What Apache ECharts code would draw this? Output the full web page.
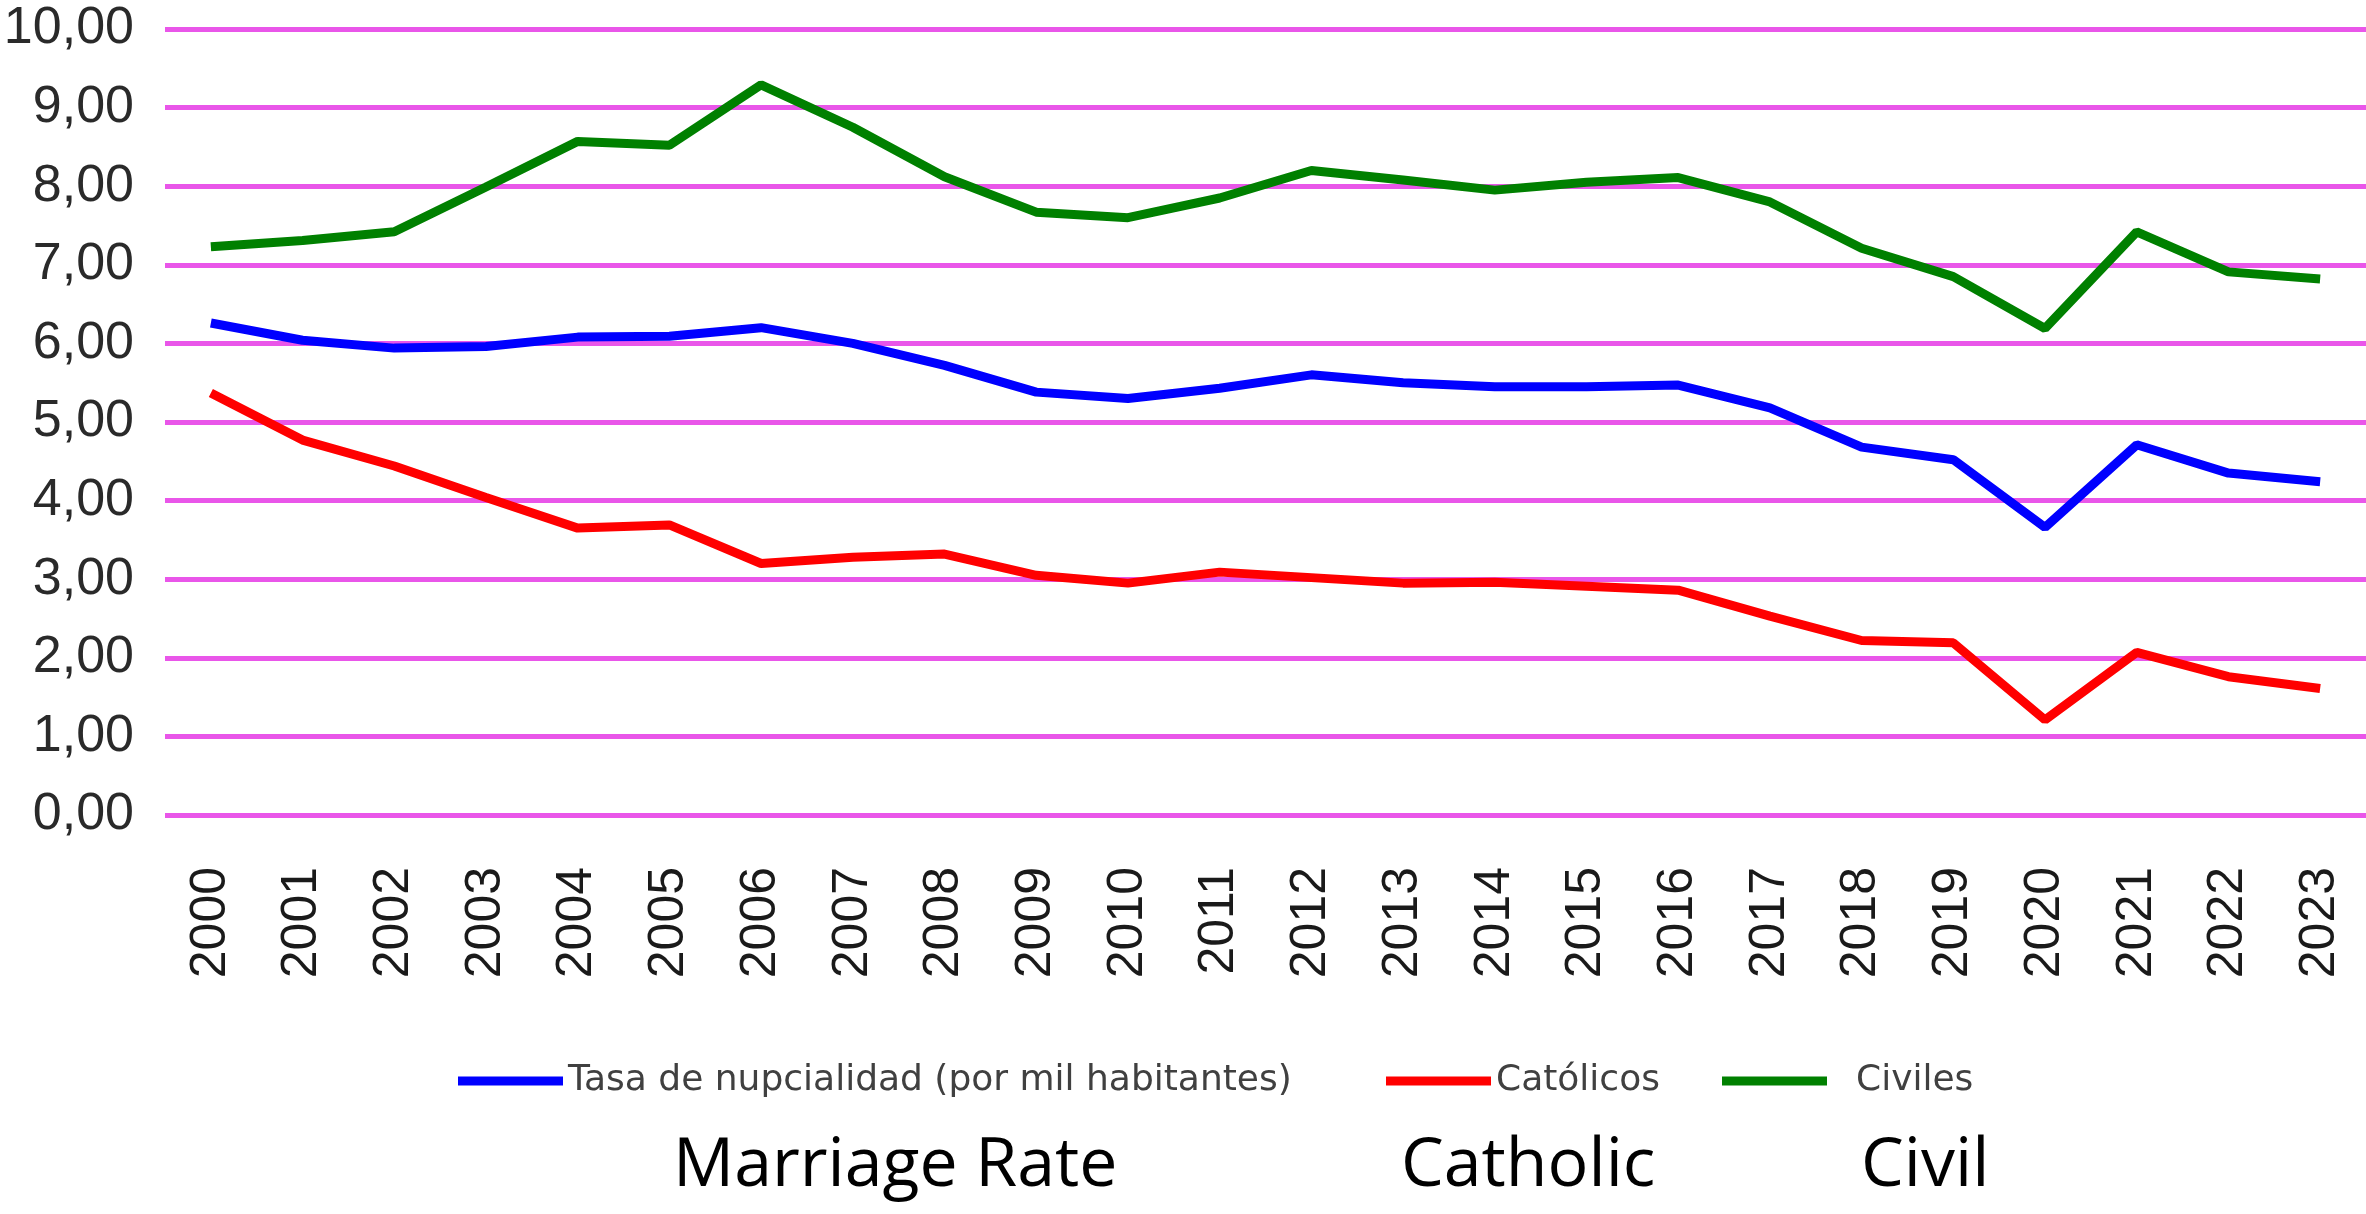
<!DOCTYPE html>
<html>
<head>
<meta charset="utf-8">
<script src="https://cdn.jsdelivr.net/npm/echarts@6/dist/echarts.min.js"></script>
<style>
html,body{margin:0;padding:0;background:#fff;}
#chart{width:2366px;height:1214px;}
</style>
</head>
<body>
<div id="chart"></div>
<script>
const years = ['2000','2001','2002','2003','2004','2005','2006','2007','2008','2009','2010','2011','2012','2013','2014','2015','2016','2017','2018','2019','2020','2021','2022','2023'];
const tasa = [6.26, 6.04, 5.94, 5.96, 6.08, 6.09, 6.20, 6.00, 5.72, 5.38, 5.30, 5.43, 5.60, 5.50, 5.45, 5.45, 5.47, 5.18, 4.68, 4.52, 3.66, 4.71, 4.35, 4.24];
const catolicos = [5.37, 4.77, 4.44, 4.04, 3.65, 3.69, 3.20, 3.28, 3.32, 3.05, 2.95, 3.09, 3.02, 2.95, 2.96, 2.91, 2.86, 2.53, 2.22, 2.19, 1.21, 2.07, 1.76, 1.61];
const civiles = [7.23, 7.31, 7.42, 7.99, 8.57, 8.52, 9.29, 8.75, 8.12, 7.67, 7.60, 7.85, 8.20, 8.08, 7.95, 8.05, 8.11, 7.80, 7.21, 6.85, 6.19, 7.42, 6.91, 6.82];
const seriesNames = ['Tasa de nupcialidad (por mil habitantes)', 'Católicos', 'Civiles'];
const seriesColors = ['#0000ff', '#ff0000', '#008000'];
const captions = ['Marriage Rate', 'Catholic', 'Civil'];

const chart = echarts.init(document.getElementById('chart'));
const legendBase = {
  orient: 'horizontal', top: 1056, icon: 'rect', itemWidth: 105, itemHeight: 9,
  textStyle: { fontFamily: 'DejaVu Sans', fontSize: 36, color: '#404040', lineHeight: 40 },
  selectedMode: false
};
chart.setOption({
  animation: false,
  backgroundColor: '#ffffff',
  grid: { left: 165, right: 0, top: 29, bottom: 399, containLabel: false },
  title: [
    { text: captions[0], left: 668, top: 1128, textStyle: { fontFamily: 'Open Sans', fontSize: 68, fontWeight: 'normal', color: '#000' } },
    { text: captions[1], left: 1396, top: 1128, textStyle: { fontFamily: 'Open Sans', fontSize: 68, fontWeight: 'normal', color: '#000' } },
    { text: captions[2], left: 1856, top: 1128, textStyle: { fontFamily: 'Open Sans', fontSize: 68, fontWeight: 'normal', color: '#000' } }
  ],
  legend: [
    Object.assign({}, legendBase, { left: 453, data: [seriesNames[0]] }),
    Object.assign({}, legendBase, { left: 1381, data: [seriesNames[1]] }),
    Object.assign({}, legendBase, { left: 1717, data: [seriesNames[2]],
      textStyle: Object.assign({}, legendBase.textStyle, { padding: [0, 0, 0, 24] }) })
  ],
  xAxis: {
    type: 'category', data: years, boundaryGap: true,
    axisLine: { show: false }, axisTick: { show: false },
    axisLabel: { rotate: 90, margin: 52, fontFamily: 'Liberation Sans', fontSize: 50, color: '#1a1a1a' }
  },
  yAxis: {
    type: 'value', min: 0, max: 10, interval: 1,
    axisLine: { show: false }, axisTick: { show: false },
    axisLabel: { margin: 31, fontFamily: 'Liberation Sans', fontSize: 52, color: '#2a2a2a',
      formatter: v => v.toFixed(2).replace('.', ',') },
    splitLine: { lineStyle: { color: '#e956e9', width: 5 } }
  },
  series: [
    { name: seriesNames[0], type: 'line', data: tasa, symbol: 'none', lineStyle: { color: seriesColors[0], width: 9 }, itemStyle: { color: seriesColors[0] } },
    { name: seriesNames[1], type: 'line', data: catolicos, symbol: 'none', lineStyle: { color: seriesColors[1], width: 9 }, itemStyle: { color: seriesColors[1] } },
    { name: seriesNames[2], type: 'line', data: civiles, symbol: 'none', lineStyle: { color: seriesColors[2], width: 9 }, itemStyle: { color: seriesColors[2] } }
  ]
});
</script>
</body>
</html>
